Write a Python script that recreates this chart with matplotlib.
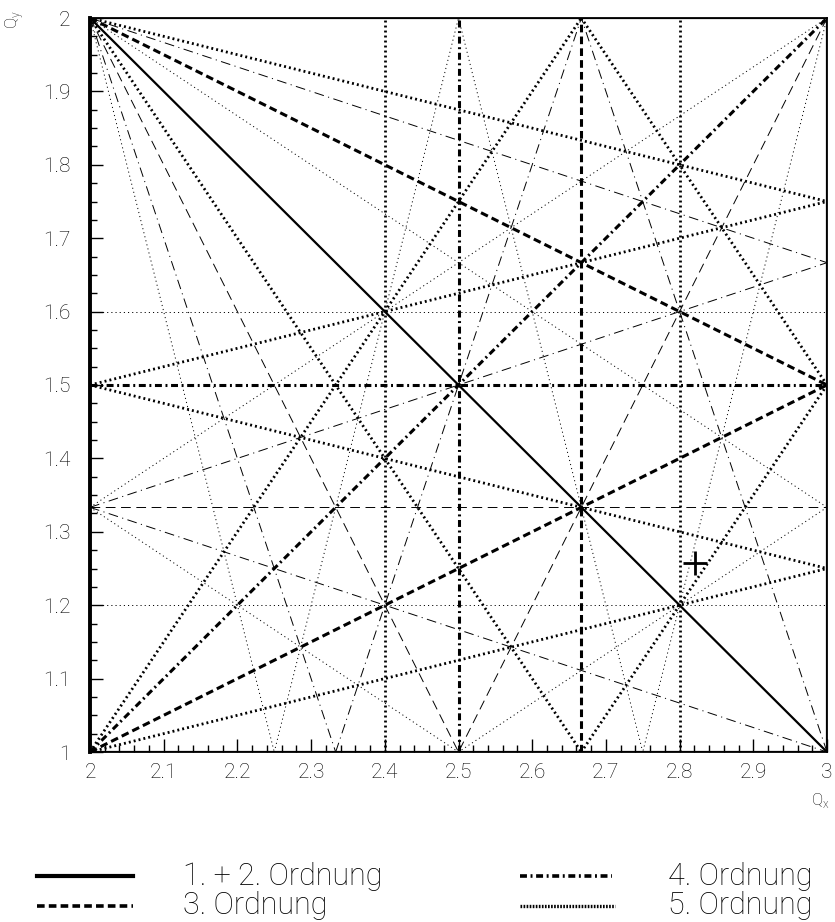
import matplotlib
matplotlib.use("Agg")
import matplotlib.pyplot as plt
from matplotlib.lines import Line2D
from matplotlib.ticker import MultipleLocator, FuncFormatter

plt.rcParams['font.family'] = ['Roboto', 'DejaVu Sans']
plt.rcParams['font.weight'] = 'light'
plt.rcParams['lines.scale_dashes'] = False

# tune window
qx_lim = (2.0, 3.0)
qy_lim = (1.0, 2.0)

# resonance lines m*Qx + n*Qy = p (superperiodicity 2 -> p even)
order12 = [(1, 0, 2), (0, 1, 2), (2, 0, 6), (0, 2, 2), (1, 1, 4)]
order3 = [(3, 0, 8), (0, 3, 4), (2, 1, 6), (2, -1, 4), (1, 2, 6), (1, -2, 0)]
order4 = [(4, 0, 10), (0, 4, 6), (3, 1, 8), (3, 1, 10), (3, -1, 6),
          (1, 3, 6), (1, 3, 8), (1, -3, -2), (2, -2, 2)]
order5 = [(5, 0, 12), (5, 0, 14), (0, 5, 6), (0, 5, 8),
          (4, 1, 10), (4, 1, 12), (4, -1, 8), (4, -1, 10),
          (3, 2, 10), (3, 2, 12), (3, -2, 4), (3, -2, 6),
          (2, 3, 8), (2, 3, 10), (2, -3, 0), (2, -3, 2),
          (1, 4, 8), (1, 4, 10), (1, -4, -4), (1, -4, -2)]

# working point
wp_qx = [2.821]
wp_qy = [1.258]

legend_labels = ['1. + 2. Ordnung', '3. Ordnung', '4. Ordnung', '5. Ordnung']

# line styles: (linewidth, dash pattern) for normal (n even) / skew (n odd)
styles = {
    2: {'thick': (1.6, None), 'thin': (1.6, None)},
    3: {'thick': (2.2, (5.5, 3.0)), 'thin': (0.7, (7.0, 4.0))},
    4: {'thick': (2.2, (5.0, 2.6, 1.4, 2.6)), 'thin': (0.7, (7.0, 3.2, 0.8, 3.2))},
    5: {'thick': (2.0, (1.4, 2.2)), 'thin': (0.7, (0.8, 2.2))},
}


def segment(m, n, p):
    # end points of m*x + n*y = p inside the tune window
    pts = []
    x0, x1 = qx_lim
    y0, y1 = qy_lim
    if n != 0:
        for x in (x0, x1):
            y = (p - m * x) / n
            if y0 - 1e-9 <= y <= y1 + 1e-9:
                pts.append((x, y))
    if m != 0:
        for y in (y0, y1):
            x = (p - n * y) / m
            if x0 - 1e-9 <= x <= x1 + 1e-9:
                pts.append((x, y))
    uniq = []
    for pt in pts:
        if all(abs(pt[0] - q[0]) + abs(pt[1] - q[1]) > 1e-9 for q in uniq):
            uniq.append(pt)
    return uniq[:2] if len(uniq) >= 2 else None


fig = plt.figure(figsize=(8.35, 9.22), dpi=100)
ax = fig.add_axes([90 / 835, 1 - 752 / 922, 737 / 835, 734 / 922])

groups = [(2, order12), (3, order3), (4, order4), (5, order5)]
for kind in ('thin', 'thick'):
    for order, lines in groups:
        for m, n, p in lines:
            k = 'thick' if n % 2 == 0 else 'thin'
            if order == 2:
                k = 'thick'
            if k != kind:
                continue
            seg = segment(m, n, p)
            if seg is None:
                continue
            lw, dash = styles[order][k]
            xs = [seg[0][0], seg[1][0]]
            ys = [seg[0][1], seg[1][1]]
            if dash is None:
                ax.plot(xs, ys, color='black', lw=lw, solid_capstyle='butt')
            else:
                ax.plot(xs, ys, color='black', lw=lw, dashes=dash,
                        dash_capstyle='butt')

ax.plot(wp_qx, wp_qy, marker='+', color='black', ms=17, mew=2.0, ls='none')

ax.set_xlim(qx_lim)
ax.set_ylim(qy_lim)
ax.xaxis.set_major_locator(MultipleLocator(0.1))
ax.xaxis.set_minor_locator(MultipleLocator(0.02))
ax.yaxis.set_major_locator(MultipleLocator(0.1))
ax.yaxis.set_minor_locator(MultipleLocator(0.025))
fmt = FuncFormatter(lambda v, pos: '%g' % round(v, 3))
ax.xaxis.set_major_formatter(fmt)
ax.yaxis.set_major_formatter(fmt)
ax.tick_params(which='both', direction='in', top=False, right=False,
               width=1.0, labelsize=15)
ax.tick_params(which='major', length=9.5)
ax.tick_params(which='minor', length=5)
ax.tick_params(axis='x', pad=8)
ax.tick_params(axis='y', pad=14)
for s in ax.spines.values():
    s.set_linewidth(1.3)
ax.spines['left'].set_linewidth(2.8)

fig.text(820 / 835, 1 - 800 / 922, 'Q$_\\mathregular{x}$', fontsize=12,
         ha='center', va='center')
fig.text(15 / 835, 1 - 20 / 922, 'Q$_\\mathregular{y}$', fontsize=12,
         ha='center', va='center', rotation=90)

# legend below the diagram
def fx(px):
    return px / 835


def fy(py):
    return 1 - py / 922


legend_items = [
    (37, 133, 876, 885, 3.0, None, 183, legend_labels[0]),
    (37, 133, 906, 914, 2.6, (5.5, 3.0), 183, legend_labels[1]),
    (520, 612, 876, 885, 2.6, (5.0, 2.6, 1.4, 2.6), 668, legend_labels[2]),
    (520, 615, 906, 914, 2.4, (1.2, 1.0), 668, legend_labels[3]),
]
for x0, x1, y, base, lw, dash, tx, label in legend_items:
    ln = Line2D([fx(x0), fx(x1)], [fy(y), fy(y)], transform=fig.transFigure,
                color='black', lw=lw)
    if dash is not None:
        ln.set_dashes(dash)
    fig.add_artist(ln)
    fig.text(fx(tx), fy(base), label, fontsize=22, ha='left', va='baseline')

fig.savefig('out.png', dpi=100)
